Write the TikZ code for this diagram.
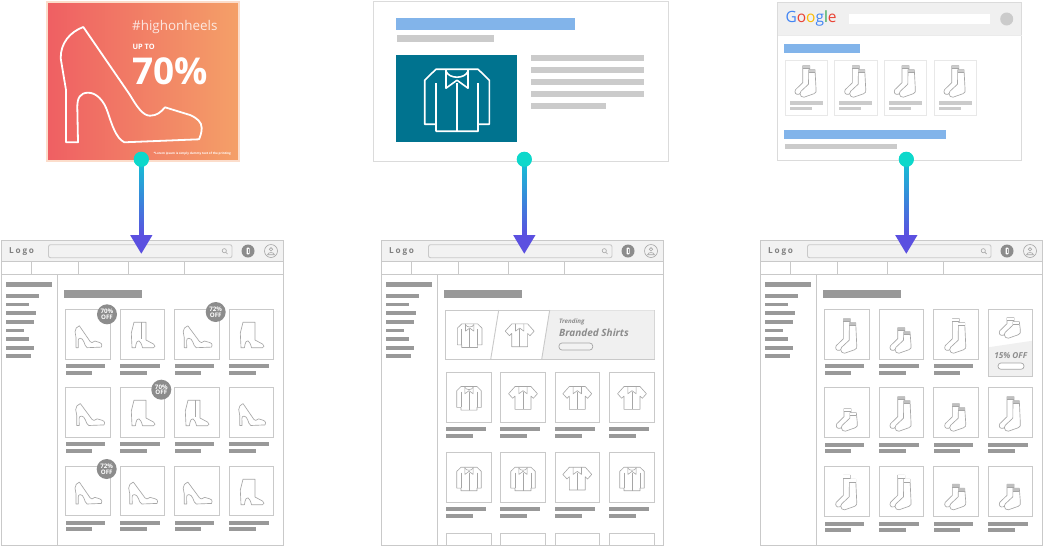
\documentclass[tikz,border=0pt]{standalone}
\usepackage{fontspec}
\setmainfont{Open Sans}
\usetikzlibrary{arrows.meta,calc}
\definecolor{wire}{HTML}{C9C9C9}
\definecolor{barg}{HTML}{999999}
\definecolor{lightg}{HTML}{CBCBCB}
\definecolor{headg}{HTML}{F2F2F2}
\definecolor{cardg}{HTML}{F0F0F0}
\definecolor{icong}{HTML}{A6A6A6}
\definecolor{badgeg}{HTML}{8C8C8C}
\definecolor{bluebar}{HTML}{82B4EA}
\definecolor{tealbox}{HTML}{00738F}
\definecolor{dotc}{HTML}{0DD8CB}
\definecolor{shafta}{HTML}{12C4D4}
\definecolor{shaftb}{HTML}{3A78E6}
\definecolor{shaftc}{HTML}{5B50E0}
\definecolor{heroA}{HTML}{EF5F63}
\definecolor{heroB}{HTML}{F4A068}
\definecolor{heroE}{HTML}{FCDDCB}
\tikzset{
  wireline/.style={draw=wire,line width=0.9},
  prodbox/.style={draw=wire,line width=0.9,fill=white},
  iconline/.style={draw=icong,line width=0.65,line join=round,fill=white},
  flow/.style={line width=4.6,draw=shaftc,-{Triangle[length=19pt,width=21pt]}},
  flowdot/.style={circle,fill=dotc,inner sep=0pt,minimum size=15pt},
  badge/.style={circle,fill=badgeg,text=white,inner sep=0pt,minimum size=20pt,align=center,font=\fontsize{6.2}{6}\selectfont\bfseries},
  pilllabel/.style={draw=icong,line width=0.7,fill=headg,rounded corners=3}
}
\newcommand{\fs}[1]{\fontsize{#1}{#1}\selectfont}
\newcommand{\shoeoutline}{(83.3,27) -- (130,95) .. controls (137,107) and (143,115.7) .. (150,115.7) .. controls (157,115.7) and (161,112) .. (165,107.3) -- (190,115) .. controls (197,118) and (201.7,122) .. (201.7,128) .. controls (201.7,133) and (200,137) .. (199,139.3) -- (124.3,142.3) .. controls (116,138) and (112,125) .. (108,113) .. controls (104,100) and (96,92.7) .. (88.3,92.7) .. controls (80,92.7) and (77.3,98) .. (77.3,107) -- (78,142.3) -- (66,142.3) -- (66,90) -- (60.7,58.3) .. controls (60.5,43) and (70,32) .. (83.3,27) -- cycle}
\newcommand{\shoeic}[3]{\begin{scope}[shift={(#1,#2)},xscale=#3,yscale=0.19,shift={(-130.5,-84.5)}]\path[iconline] \shoeoutline;\end{scope}}
\newcommand{\bootic}[3]{\begin{scope}[shift={(#1,#2)}]
  \path[iconline] (-9,-12.7) -- (#3,-12.7) -- (#3,5) -- (10.5,9) .. controls (12.5,10) and (12.5,12.7) .. (10.5,12.7) -- (-0.5,12.7) .. controls (-2,6) and (-6,1) .. (-7.6,12.7) -- (-11,12.7) -- (-11.7,-2) -- cycle;
  \end{scope}}
\newcommand{\bootstrip}[2]{\bootic{#1}{#2}{3}\draw[icong,line width=0.65] ($(#1,#2)+(-1.5,-12.7)$) -- ($(#1,#2)+(-1.5,4)$);}
\newcommand{\shirtlong}[4]{\begin{scope}[shift={(#1,#2)},scale=#3,line join=round,line width=#4]
  \draw (-32.3,-20) -- (-21,-31) -- (21,-31) -- (32.3,-20) -- (32.3,24) -- (21,24) -- (21,31) -- (-21,31) -- (-21,24) -- (-32.3,24) -- cycle;
  \draw (-21,-17) -- (-21,24) (21,-17) -- (21,24) (0,-17) -- (0,31);
  \draw (-11,-31) -- (-11,-12) -- (0,-20) -- (11,-12) -- (11,-31);
  \draw (-11,-29) .. controls (-8,-21) and (8,-21) .. (11,-29);
  \end{scope}}
\newcommand{\shirtshort}[4]{\begin{scope}[shift={(#1,#2)},scale=#3,line join=round,line width=#4]
  \draw (-21,-31) -- (21,-31) -- (38,-12) -- (27,0) -- (21,-6) -- (21,29) -- (-21,29) -- (-21,-6) -- (-27,0) -- (-38,-12) -- cycle;
  \draw (0,-17) -- (0,29);
  \draw (-11,-31) -- (-11,-12) -- (0,-20) -- (11,-12) -- (11,-31);
  \end{scope}}
\newcommand{\sockic}[4]{\begin{scope}[shift={(#1,#2)}]
  \path[iconline] (-3.3,-#3) -- (3.7,-#3) -- (3.7,-10) -- (-7,-2.5) .. controls (-10,-1.5) and (-12,-4) .. (-10.5,-7) -- (-3.3,-14) -- cycle;
  \fill[#4] (-3.3,-#3) rectangle (3.7,-#3+2.6);
  \draw[icong,line width=0.65] (-3.3,-#3+2.6) -- (3.7,-#3+2.6);
  \path[iconline] (2.7,-#3+4) -- (9,-#3+4) -- (10,-8) .. controls (10.5,-5) and (10,-4) .. (8,-3) -- (-2,0.5) .. controls (-4,1) and (-6,-1) .. (-6,-3) .. controls (-6,-4) and (-5.5,-5) .. (-5,-5.5) -- (2.5,-12.5) -- cycle;
  \fill[#4] (2.7,-#3+4) rectangle (9,-#3+6.6);
  \draw[icong,line width=0.65] (2.7,-#3+6.6) -- (9,-#3+6.6);
  \end{scope}}
\newcommand{\captbars}[2]{\fill[barg] (#1,#2-2) rectangle ++(39.5,3.8);\fill[barg] (#1,#2+4.7) rectangle ++(26.5,3.8);}
\newcommand{\pageframe}[2]{%
\begin{scope}[shift={(#1,0)}]
  \fill[white] (1,240.5) rectangle (283.5,545);
  \fill[headg] (1,240.5) rectangle (283.5,261.5);
  \draw[wireline] (1,240.5) rectangle (283.5,545);
  \draw[wireline] (1,261.5) -- (283.5,261.5) (1,274.5) -- (283.5,274.5) (57.5,274.5) -- (57.5,545);
  \foreach \sx in {31,78,128.5,184.5} {\draw[wireline] (\sx,261.5) -- (\sx,274.5);}
  \node[anchor=west,text=black!50,inner sep=0pt,font=\fs{8.2}\bfseries] (logo#2) at (9,251.2) {\addfontfeature{LetterSpace=22}Logo};
  \draw[draw=wire,line width=0.9,rounded corners=2] (48.5,244.7) rectangle (232,257.7);
  \draw[draw=icong,line width=0.6] (224.3,250.7) circle (2.1);
  \draw[draw=icong,line width=0.7] (225.8,252.3) -- (227.6,254.1);
  \node[circle,fill=badgeg,inner sep=0pt,minimum size=13pt] (cart#2) at (248,251) {};
  \fill[white,rounded corners=0.6] (246.5,247.7) rectangle (249.5,254.3);
  \fill[badgeg] (247.5,249.2) rectangle (248.5,252.8);
  \node[circle,draw=icong,line width=0.6,inner sep=0pt,minimum size=13pt] (user#2) at (271,251) {};
  \draw[icong,line width=0.6] (271,249.3) circle (1.7);
  \draw[icong,line width=0.6] (267.6,254.7) .. controls (268,251.8) and (274,251.8) .. (274.4,254.7) -- cycle;
  \fill[barg] (6.3,281.5) rectangle (51.7,287);
  \foreach \yy/\xx in {294/39,302.6/28.7,311.3/35.7,320/34,328.6/24,337.3/28.7,346/34.3,354.3/30.7} {\fill[barg] (6.3,\yy) rectangle (\xx,\yy+3.5);}
  \fill[barg] (64,290) rectangle (141.7,297.7);
\end{scope}}
\begin{document}
\begin{tikzpicture}[x=1pt,y=-1pt]
\useasboundingbox (0,0) rectangle (1043,547);
\fill[white] (0,0) rectangle (1043,547);
%==== hero ad
\shade[left color=heroA,right color=heroB] (47,2.3) rectangle (239,161);
\draw[heroE,line width=2] (47,2.3) rectangle (239,161);
\draw[white,line width=1.8,line join=round] \shoeoutline;
\node[anchor=west,inner sep=0pt,text=white,opacity=.8,font=\fs{13.4}] (tag) at (132,27) {\#highonheels};
\node[anchor=west,inner sep=0pt,text=white,font=\fs{7.4}\bfseries] (upto) at (132.3,47.3) {UP TO};
\node[anchor=west,inner sep=0pt,text=white,font=\fs{37}\bfseries] (pct) at (132,71) {70\%};
\node[anchor=west,inner sep=0pt,text=white,font=\fs{3.02}\bfseries] (fine) at (153.5,153.7) {*Lorem ipsum is simply dummy text of the printing};
%==== text ad
\draw[draw=black!14,line width=0.9] (373.3,1.3) rectangle (668.7,161.3);
\fill[bluebar] (396,18) rectangle (575,30);
\fill[lightg] (396.7,35.3) rectangle (494,42);
\fill[tealbox] (396,55) rectangle (516.7,142.3);
\begin{scope}[white]
\shirtlong{457}{100.2}{1}{1.6}
\end{scope}
\foreach \yy/\xx in {55/644,67/644,79/644,91/644,103/606.3} {\fill[lightg] (531,\yy) rectangle (\xx,\yy+6);}
%==== search ad
\fill[cardg] (777.7,2.7) rectangle (1021.7,35.3);
\draw[draw=black!14,line width=0.9] (777.7,2.7) rectangle (1021.7,160.7);
\draw[draw=black!8,line width=0.7] (777.7,35.3) -- (1021.7,35.3);
\node[anchor=west,inner sep=0pt,font=\fs{15.5}] (google) at (785.3,18.5) {\textcolor[HTML]{4285F4}{G}\textcolor[HTML]{EA4335}{o}\textcolor[HTML]{FBBC05}{o}\textcolor[HTML]{4285F4}{g}\textcolor[HTML]{34A853}{l}\textcolor[HTML]{EA4335}{e}};
\fill[white] (848.7,13.7) rectangle (990.3,24.3);
\fill[lightg] (1006.7,19) circle (6.5);
\fill[bluebar] (784,44) rectangle (860,52.7);
\foreach \xa/\xb/\xc in {785.3/827.7/806,834.3/877.7/855.7,884.3/926.7/905.3,934.3/976.7/955} {
  \draw[draw=black!9,line width=0.8] (\xa,60.3) rectangle (\xb,115.7);
  \sockic{\xc}{96.7}{31}{black!20}
  \fill[lightg] (\xa+4.4,101) rectangle (\xa+37.7,104.7);
  \fill[lightg] (\xa+4.4,106.7) rectangle (\xa+26.4,110);
}
\fill[bluebar] (784,130) rectangle (946,139);
\fill[lightg] (785,144) rectangle (896.7,149);
%==== page 1: shoes
\pageframe{0}{A}
\foreach \xa/\xb in {65.7/110.3,120.3/164.7,174.7/219.7,229.3/273.7} {
  \foreach \ya/\yb/\yc in {309.3/359.3/366,387.3/437.3/444,466.3/515.7/522.7} {
    \draw[prodbox] (\xa,\ya) rectangle (\xb,\yb);
    \captbars{\xa}{\yc}
  }
}
\shoeic{88.3}{336.7}{0.19}
\bootstrip{143}{335}
\shoeic{197.5}{336.7}{0.205}
\bootic{252}{335}{3}
\shoeic{90}{414.5}{0.205}
\bootic{143}{413}{3}
\bootstrip{197}{413}
\shoeic{252}{414.5}{0.19}
\shoeic{88.3}{493}{0.19}
\shoeic{143}{493}{0.205}
\shoeic{197.5}{493}{0.205}
\bootic{252}{492}{3}
\node[badge] (b1) at (107,314.3) {70\%\\[-0.4pt]OFF};
\node[badge] (b2) at (215.7,312) {72\%\\[-0.4pt]OFF};
\node[badge] (b3) at (161.3,389.7) {70\%\\[-0.4pt]OFF};
\node[badge] (b4) at (106.7,469) {72\%\\[-0.4pt]OFF};
%==== page 2: shirts
\pageframe{380}{B}
\draw[wireline,line width=1] (445.7,310) rectangle (654.7,359.3);
\fill[cardg] (549.7,310.4) -- (654.3,310.4) -- (654.3,358.9) -- (541.7,358.9) -- cycle;
\draw[wireline] (498.7,310) -- (490.7,359.3) (549.7,310) -- (541.7,359.3);
\begin{scope}[icong]
\shirtlong{469.7}{335.7}{0.38}{0.6}
\shirtshort{519.7}{335.7}{0.38}{0.6}
\end{scope}
\node[anchor=west,inner sep=0pt,text=badgeg,font=\fs{6.2}\bfseries\itshape] (trend) at (559,321.7) {Trending};
\node[anchor=west,inner sep=0pt,text=badgeg,font=\fs{10}\bfseries\itshape] (brand) at (559,332.7) {Branded Shirts};
\draw[pilllabel] (559,343) rectangle (592.7,350);
\foreach \xa/\xb in {446.3/491.3,500.3/545,555.3/599.7,609.3/654.7} {
  \foreach \ya/\yb/\yc in {372.3/422.7/429.3,452.3/502.7/509.3} {
    \draw[prodbox] (\xa,\ya) rectangle (\xb,\yb);
    \captbars{\xa}{\yc}
  }
  \draw[wireline] (\xa,545) -- (\xa,533.3) -- (\xb,533.3) -- (\xb,545);
}
\begin{scope}[icong]
\shirtlong{469}{398.3}{0.38}{0.6}
\shirtshort{523}{398.3}{0.38}{0.6}
\shirtshort{577.3}{398.3}{0.38}{0.6}
\shirtshort{632}{398.3}{0.38}{0.6}
\shirtlong{469}{479}{0.38}{0.6}
\shirtlong{523}{479}{0.38}{0.6}
\shirtshort{577.3}{479}{0.38}{0.6}
\shirtlong{632}{479}{0.38}{0.6}
\end{scope}
%==== page 3: socks
\pageframe{759}{C}
\foreach \xa/\xb in {824.7/869.7,879.3/923.7,933.7/978.7,988.3/1032.7} {
  \foreach \ya/\yb/\yc in {387.3/437.7/444.7,466.3/516.7/523.7} {
    \draw[prodbox] (\xa,\ya) rectangle (\xb,\yb);
    \captbars{\xa}{\yc}
  }
}
\foreach \xa/\xb in {824.7/869.7,879.3/923.7,933.7/978.7} {
  \draw[prodbox] (\xa,309.3) rectangle (\xb,359.7);
  \captbars{\xa}{366.3}
}
\fill[cardg] (988.3,347.3) -- (1032.7,340.7) -- (1032.7,376) -- (988.3,376) -- cycle;
\draw[wireline] (988.3,309.3) rectangle (1032.7,376);
\node[inner sep=0pt,text=badgeg,font=\fs{8.2}\bfseries\itshape] (off) at (1010.7,355.7) {15\% OFF};
\draw[pilllabel,fill=white] (998,363) rectangle (1024,369.3);
\sockic{846.7}{352.7}{34}{black!25}
\sockic{901}{352.7}{25}{black!25}
\sockic{955.7}{352.7}{34}{white}
\sockic{1010.3}{337.7}{20}{white}
\sockic{847.3}{430.7}{22}{white}
\sockic{901}{430.7}{34}{black!25}
\sockic{955.7}{430.7}{27}{black!25}
\sockic{1010.3}{430.7}{34}{black!25}
\sockic{846.7}{509.3}{34}{white}
\sockic{901}{509.3}{34}{white}
\sockic{955.7}{509.3}{25}{black!25}
\sockic{1010.3}{509.3}{25}{black!25}
%==== connectors
\foreach \nm/\cx/\dy in {one/141.3/159.3,two/524.3/159.3,three/906.3/159.3} {
  \node[flowdot] (dot\nm) at (\cx,\dy) {};
  \coordinate (tip\nm) at (\cx,254);
  \draw[flow] (dot\nm.center) -- (tip\nm);
  \shade[top color=shafta,middle color=shaftb,bottom color=shaftc] ($(dot\nm.center)+(-2.3,0)$) rectangle ($(tip\nm)+(2.3,-19)$);
  \node[flowdot] (cap\nm) at (dot\nm) {};
}
\end{tikzpicture}
\end{document}
